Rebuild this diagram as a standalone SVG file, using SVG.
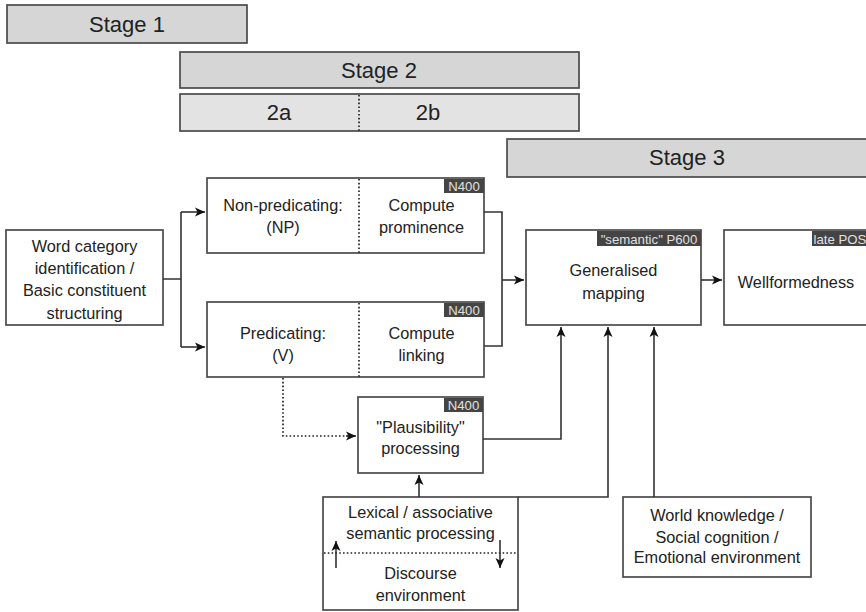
<svg xmlns="http://www.w3.org/2000/svg" width="866" height="612" viewBox="0 0 866 612">
<defs>
<style>
text{font-family:"Liberation Sans",Arial,sans-serif;fill:#222;text-anchor:middle}
.stage{fill:#d6d6d6;stroke:#4a4a4a;stroke-width:1.7}
.sub{fill:#e3e3e3;stroke:#4a4a4a;stroke-width:1.7}
.st{font-size:22px}
.box{fill:#fff;stroke:#4a4a4a;stroke-width:1.7}
.t{font-size:16.3px}
.badge{fill:#444}
.bt{font-size:13.2px;fill:#e0e0e0}
.dot{fill:none;stroke:#222;stroke-width:1.7;stroke-dasharray:1.6 2.2}
.ln{fill:none;stroke:#333;stroke-width:1.6}
</style>
<marker id="ah" viewBox="0 0 10 10" refX="10" refY="5" markerWidth="10" markerHeight="10" markerUnits="userSpaceOnUse" orient="auto">
<path d="M0,0.5 L10,5 L0,9.5 L2.5,5 Z" fill="#111"/>
</marker>
</defs>
<rect width="866" height="612" fill="#fff"/>

<g id="stage1"><rect class="stage" x="7" y="5" width="240" height="38"/><text class="st" x="127" y="32">Stage 1</text></g>
<g id="stage2"><rect class="stage" x="180" y="52" width="399" height="36"/><text class="st" x="379" y="78">Stage 2</text></g>
<g id="stage2ab"><rect class="sub" x="180" y="94" width="399" height="37"/><line class="dot" x1="359" y1="95" x2="359" y2="131"/><text class="st" x="279" y="120">2a</text><text class="st" x="428" y="120">2b</text></g>
<g id="stage3"><rect class="stage" x="507" y="139" width="370" height="38"/><text class="st" x="687" y="165">Stage 3</text></g>

<g id="word"><rect class="box" x="6" y="230" width="157" height="95"/>
<text class="t" x="84.5" y="252">Word category</text>
<text class="t" x="84.5" y="274">identification /</text>
<text class="t" x="84.5" y="296">Basic constituent</text>
<text class="t" x="84.5" y="319">structuring</text></g>

<g id="nonpred"><rect class="box" x="207" y="178" width="277" height="75"/>
<line class="dot" x1="359" y1="179" x2="359" y2="253"/>
<rect class="badge" x="444" y="179" width="40" height="14"/><text class="bt" x="464" y="191">N400</text>
<text class="t" x="283" y="211">Non-predicating:</text>
<text class="t" x="283" y="233">(NP)</text>
<text class="t" x="421.5" y="211">Compute</text>
<text class="t" x="421.5" y="233">prominence</text></g>

<g id="pred"><rect class="box" x="207" y="302" width="277" height="75"/>
<line class="dot" x1="359" y1="303" x2="359" y2="377"/>
<rect class="badge" x="444" y="303" width="40" height="14"/><text class="bt" x="464" y="315">N400</text>
<text class="t" x="283" y="339">Predicating:</text>
<text class="t" x="283" y="361">(V)</text>
<text class="t" x="421.5" y="339">Compute</text>
<text class="t" x="421.5" y="361">linking</text></g>

<g id="genmap"><rect class="box" x="526" y="230" width="175" height="95"/>
<rect class="badge" x="597" y="231" width="104" height="15"/><text class="bt" x="649" y="243.5">"semantic" P600</text>
<text class="t" x="613.5" y="276">Generalised</text>
<text class="t" x="613.5" y="299">mapping</text></g>

<g id="wellformed"><rect class="box" x="724" y="230" width="150" height="95"/>
<rect class="badge" x="812" y="231" width="60" height="15"/><text class="bt" x="840" y="243.5">late POS</text>
<text class="t" x="796" y="288">Wellformedness</text></g>

<g id="plaus"><rect class="box" x="358" y="397" width="125" height="76"/>
<rect class="badge" x="444" y="398" width="39" height="14"/><text class="bt" x="463.5" y="410">N400</text>
<text class="t" x="420.5" y="433">"Plausibility"</text>
<text class="t" x="420.5" y="454">processing</text></g>

<g id="lexical"><rect class="box" x="323" y="497" width="195" height="113"/>
<text class="t" x="420.5" y="518">Lexical / associative</text>
<text class="t" x="420.5" y="539">semantic processing</text>
<line class="dot" x1="324" y1="553" x2="517" y2="553"/>
<text class="t" x="420.5" y="579">Discourse</text>
<text class="t" x="420.5" y="601">environment</text>
<line class="ln" x1="336" y1="568" x2="336" y2="541" marker-end="url(#ah)"/>
<line class="ln" x1="500" y1="540" x2="500" y2="568" marker-end="url(#ah)"/></g>

<g id="world"><rect class="box" x="623" y="497" width="188" height="80"/>
<text class="t" x="717" y="521">World knowledge /</text>
<text class="t" x="717" y="543">Social cognition /</text>
<text class="t" x="717" y="563">Emotional environment</text></g>

<g id="connectors">
<path class="ln" d="M163,279 H181 M181,212 V347"/>
<path class="ln" d="M181,212 H205" marker-end="url(#ah)"/>
<path class="ln" d="M181,347 H205" marker-end="url(#ah)"/>
<path class="ln" d="M484,212 H502 V346 H484"/>
<path class="ln" d="M502,280 H524" marker-end="url(#ah)"/>
<path class="ln" d="M701,280 H722" marker-end="url(#ah)"/>
<path class="dot" d="M283,378 V436 H348"/>
<path class="ln" d="M346,436 H356" marker-end="url(#ah)"/>
<path class="ln" d="M483,439 H561 V327" marker-end="url(#ah)"/>
<path class="ln" d="M419,497 V475" marker-end="url(#ah)"/>
<path class="ln" d="M518,497 H608 V327" marker-end="url(#ah)"/>
<path class="ln" d="M654,497 V327" marker-end="url(#ah)"/>
</g>
</svg>
